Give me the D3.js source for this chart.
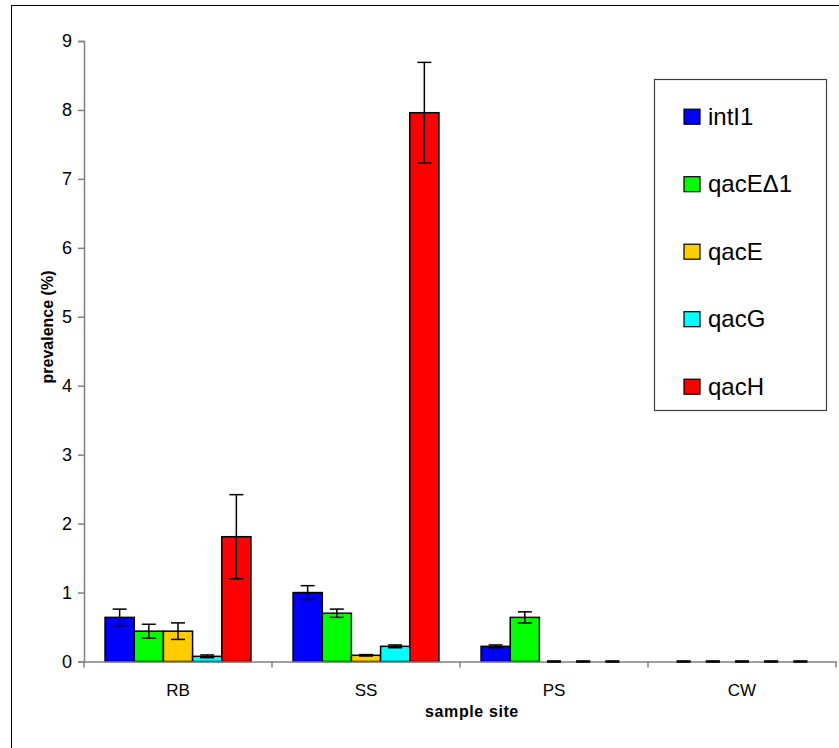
<!DOCTYPE html>
<html>
<head>
<meta charset="utf-8">
<script src="https://cdn.jsdelivr.net/npm/d3@7"></script>
<style>
  body { margin: 0; background: #fff; }
  svg { display: block; font-family: "Liberation Sans", Arial, sans-serif; }
</style>
</head>
<body>
<div id="chart"></div>
<script>
// categories and series
const categories = ["RB", "SS", "PS", "CW"];
const seriesNames = ["intI1", "qacE\u03941", "qacE", "qacG", "qacH"];
const seriesColors = ["#0000ff", "#00ff00", "#ffcc00", "#00ffff", "#ff0000"];

// prevalence (%) per site
const intI1 = [0.64, 1.00, 0.22, 0];
const qacEDelta1 = [0.44, 0.70, 0.64, 0];
const qacE = [0.44, 0.09, 0, 0];
const qacG = [0.075, 0.22, 0, 0];
const qacH = [1.81, 7.96, 0, 0];

// error bar half-widths
const intI1Err = [0.12, 0.10, 0.02, 0];
const qacEDelta1Err = [0.10, 0.06, 0.08, 0];
const qacEErr = [0.12, 0.01, 0, 0];
const qacGErr = [0.02, 0.02, 0, 0];
const qacHErr = [0.61, 0.73, 0, 0];

const yTicks = [0, 1, 2, 3, 4, 5, 6, 7, 8, 9];

const values = [intI1, qacEDelta1, qacE, qacG, qacH];
const errors = [intI1Err, qacEDelta1Err, qacEErr, qacGErr, qacHErr];

const W = 839, H = 748;
const svg = d3.select("#chart").append("svg")
    .attr("width", W)
    .attr("height", H);

// outer frame
svg.append("rect")
    .attr("x", 11.5).attr("y", 5.5)
    .attr("width", 900).attr("height", 900)
    .attr("fill", "none")
    .attr("stroke", "#000");

const x = d3.scaleBand()
    .domain(categories)
    .range([84, 836])
    .padding(0);

const pad = x.bandwidth() * 0.112;
const xs = d3.scaleBand()
    .domain(seriesNames)
    .range([pad, x.bandwidth() - pad])
    .padding(0);

const y = d3.scaleLinear()
    .domain([0, 9])
    .range([661.5, 41]);

// table of marks
const rows = [];
categories.forEach((c, ci) => {
    seriesNames.forEach((s, si) => {
        rows.push({ cat: c, name: s, color: seriesColors[si], v: values[si][ci], e: errors[si][ci] });
    });
});

// bars
svg.selectAll(".bar")
    .data(rows.filter(d => d.v > 0))
    .enter()
    .append("rect")
    .attr("class", "bar")
    .attr("x", d => x(d.cat) + xs(d.name))
    .attr("y", d => y(d.v))
    .attr("width", xs.bandwidth())
    .attr("height", d => y(0) - y(d.v))
    .attr("fill", d => d.color)
    .attr("stroke", "#000")
    .attr("stroke-width", 1.5);

// axes
const yAxis = svg.append("g")
    .attr("transform", "translate(84,0)")
    .call(d3.axisLeft(y).tickValues(yTicks).tickSize(6).tickPadding(6).tickFormat(d3.format("d")));
yAxis.select(".domain").attr("stroke", "#808080").attr("stroke-width", 1.5);
yAxis.selectAll(".tick line").attr("stroke", "#808080").attr("stroke-width", 1.5);
yAxis.selectAll(".tick text")
    .attr("font-size", 18)
    .attr("font-family", "Liberation Sans, Arial, sans-serif")
    .attr("fill", "#000");

const xAxis = svg.append("g")
    .attr("transform", `translate(0,${y(0)})`)
    .call(d3.axisBottom(x).tickSize(0).tickPadding(22));
xAxis.select(".domain").attr("stroke", "#808080").attr("stroke-width", 1.5);
xAxis.selectAll(".tick text")
    .attr("font-size", 17)
    .attr("font-family", "Liberation Sans, Arial, sans-serif")
    .attr("fill", "#000");

// category boundary ticks
xAxis.selectAll(".sep")
    .data(categories.map(c => x(c)).concat([x.range()[1]]))
    .enter()
    .append("line")
    .attr("x1", d => d).attr("x2", d => d)
    .attr("y1", 0).attr("y2", 6)
    .attr("stroke", "#808080")
    .attr("stroke-width", 1.5);

// error bars
const capW = 7;
const eb = svg.selectAll(".err")
    .data(rows)
    .enter()
    .append("g")
    .attr("class", "err")
    .attr("transform", d => `translate(${x(d.cat) + xs(d.name) + xs.bandwidth() / 2},0)`);
eb.append("line")
    .attr("y1", d => y(d.v + d.e)).attr("y2", d => y(d.v - d.e))
    .attr("stroke", "#000").attr("stroke-width", 1.5);
eb.append("line")
    .attr("x1", -capW).attr("x2", capW)
    .attr("y1", d => y(d.v + d.e)).attr("y2", d => y(d.v + d.e))
    .attr("stroke", "#000").attr("stroke-width", 1.5);
eb.append("line")
    .attr("x1", -capW).attr("x2", capW)
    .attr("y1", d => y(Math.max(0, d.v - d.e))).attr("y2", d => y(Math.max(0, d.v - d.e)))
    .attr("stroke", "#000").attr("stroke-width", d => d.v === 0 ? 2.5 : 1.5);

// axis titles
svg.append("text")
    .attr("transform", "translate(53,327) rotate(-90)")
    .attr("text-anchor", "middle")
    .attr("font-size", 16)
    .attr("font-weight", "bold")
    .text("prevalence (%)");

svg.append("text")
    .attr("x", 472).attr("y", 717)
    .attr("text-anchor", "middle")
    .attr("font-size", 16)
    .attr("font-weight", "bold")
    .attr("letter-spacing", 0.6)
    .text("sample site");

// legend
const legend = svg.append("g").attr("class", "legend");
legend.append("rect")
    .attr("x", 654.5).attr("y", 79.5)
    .attr("width", 172).attr("height", 331)
    .attr("fill", "#fff")
    .attr("stroke", "#404040")
    .attr("stroke-width", 1.2);

const ly = d3.scalePoint()
    .domain(seriesNames)
    .range([116.7, 386.7]);

const item = legend.selectAll(".item")
    .data(seriesNames)
    .enter()
    .append("g")
    .attr("transform", d => `translate(0,${ly(d)})`);
item.append("rect")
    .attr("x", 684).attr("y", -7.5)
    .attr("width", 16).attr("height", 15)
    .attr("fill", (d, i) => seriesColors[i])
    .attr("stroke", "#000")
    .attr("stroke-width", 1.2);
item.append("text")
    .attr("x", 708).attr("y", 8)
    .attr("font-size", 24)
    .text(d => d);
</script>
</body>
</html>
